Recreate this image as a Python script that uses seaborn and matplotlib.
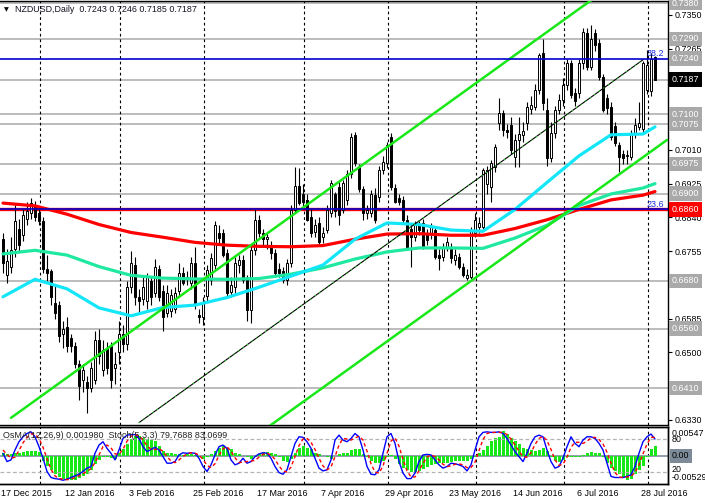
import numpy as np
import matplotlib
matplotlib.use("Agg")
import matplotlib.pyplot as plt
import matplotlib.transforms as mtransforms
import seaborn as sns

### DATA ###

TITLE = "NZDUSD,Daily  0.7243 0.7246 0.7185 0.7187"
IND_TITLE = "OsMA(12,26,9) 0.001980  Stoch(5,3,3) 79.7688 83.0699"

# daily candles in pips (x 0.0001), bar 0 = 17 Dec 2015
OPENS = [
    6785, 6695, 6715, 6760, 6810, 6795, 6835, 6850, 6870, 6850,
    6830, 6710, 6705, 6625, 6620, 6545, 6565, 6535, 6515, 6470,
    6430, 6425, 6410, 6430, 6530, 6455, 6510, 6515, 6460, 6500,
    6545, 6520, 6665, 6720, 6640, 6635, 6630, 6680, 6650, 6710,
    6655, 6600, 6605, 6610, 6655, 6700, 6690, 6675, 6725, 6595,
    6590, 6641, 6683, 6720, 6800, 6800, 6750, 6653, 6665, 6720,
    6733, 6683, 6607, 6758, 6833, 6800, 6785, 6766, 6750, 6710,
    6705, 6683, 6724, 6859, 6918, 6900, 6884, 6842, 6804, 6825,
    6790, 6809, 6850, 6900, 6917, 6859, 6883, 6950, 7048, 6967,
    6912, 6850, 6850, 6896, 6892, 6959, 6976, 7043, 6913, 6888,
    6884, 6833, 6810, 6790, 6820, 6825, 6800, 6800, 6808, 6745,
    6741, 6766, 6766, 6733, 6741, 6716, 6687, 6691, 6800, 6817,
    6817, 6925, 6917, 6968, 7077, 7102, 7060, 7073, 6993, 7035,
    7048, 7077, 7112, 7119, 7161, 7254, 7110, 6990, 7052, 7110,
    7136, 7174, 7228, 7154, 7154, 7228, 7304, 7220, 7304, 7278,
    7194, 7140, 7119, 7069, 7022, 7000, 6995, 6993, 7052, 7068,
    7062, 7160, 7158, 7243,
]
HIGHS = [
    6800, 6760, 6790, 6870, 6835, 6860, 6880, 6890, 6882, 6865,
    6840, 6745, 6710, 6670, 6630, 6580, 6590, 6545, 6525, 6480,
    6470, 6440, 6475, 6555, 6560, 6530, 6525, 6525, 6500, 6580,
    6570, 6680, 6755, 6740, 6660, 6690, 6700, 6690, 6735, 6720,
    6670, 6670, 6660, 6665, 6725, 6715, 6705, 6740, 6765, 6610,
    6640, 6720, 6750, 6830, 6820, 6810, 6760, 6690, 6740, 6745,
    6745, 6695, 6770, 6860, 6845, 6810, 6800, 6780, 6760, 6725,
    6715, 6735, 6870, 6968, 6965, 6925, 6900, 6860, 6835, 6840,
    6815, 6870, 6935, 6905, 6930, 6935, 6960, 7053, 7055, 6975,
    6920, 6870, 6910, 6915, 6970, 6995, 7030, 7053, 6925, 6900,
    6895, 6845, 6825, 6830, 6830, 6835, 6810, 6825, 6815, 6760,
    6775, 6790, 6775, 6760, 6750, 6725, 6710, 6815, 6850, 6840,
    6965, 6970, 6985, 7025, 7140, 7110, 7075, 7094, 7050, 7094,
    7080, 7130, 7145, 7175, 7255, 7290, 7140, 7080, 7120, 7150,
    7190, 7240, 7237, 7165, 7240, 7318, 7318, 7325, 7315, 7290,
    7200, 7150, 7130, 7080, 7030, 7010, 7010, 7060, 7090, 7130,
    7235, 7262, 7255, 7246,
]
LOWS = [
    6700, 6675, 6700, 6740, 6755, 6780, 6820, 6835, 6830, 6820,
    6700, 6680, 6620, 6585, 6525, 6510, 6500, 6500, 6460, 6380,
    6400, 6347, 6400, 6420, 6470, 6440, 6445, 6410, 6420, 6470,
    6500, 6505, 6650, 6620, 6600, 6620, 6610, 6620, 6640, 6630,
    6555, 6590, 6590, 6600, 6640, 6670, 6670, 6660, 6610, 6575,
    6570, 6630, 6670, 6710, 6770, 6740, 6640, 6640, 6650, 6700,
    6675, 6580, 6575, 6745, 6790, 6770, 6760, 6735, 6690, 6690,
    6675, 6670, 6715, 6850, 6870, 6865, 6830, 6790, 6790, 6770,
    6775, 6800, 6840, 6840, 6820, 6850, 6870, 6940, 6970, 6905,
    6833, 6835, 6840, 6825, 6880, 6950, 6965, 6910, 6875, 6870,
    6825, 6760, 6715, 6780, 6795, 6760, 6770, 6785, 6735, 6708,
    6730, 6755, 6725, 6720, 6710, 6690, 6683, 6685, 6790, 6800,
    6810, 6900, 6880, 6955, 7060, 7045, 7040, 7000, 6968, 6968,
    7030, 7060, 7100, 7110, 7150, 7110, 6970, 6980, 7040, 7100,
    7120, 7160, 7140, 7120, 7140, 7215, 7210, 7210, 7260, 7185,
    7105, 7100, 7035, 7020, 6955, 6975, 6975, 6985, 7040, 7060,
    7055, 7150, 7145, 7185,
]
CLOSES = [
    6725, 6730, 6757, 6830, 6770, 6845, 6855, 6875, 6840, 6830,
    6710, 6700, 6640, 6600, 6540, 6560, 6515, 6515, 6470, 6415,
    6455, 6410, 6460, 6530, 6490, 6505, 6460, 6430, 6470, 6545,
    6520, 6665, 6725, 6640, 6630, 6665, 6690, 6640, 6715, 6640,
    6590, 6650, 6645, 6650, 6700, 6675, 6685, 6725, 6625, 6590,
    6628, 6708, 6737, 6821, 6788, 6745, 6650, 6670, 6724, 6733,
    6683, 6607, 6758, 6833, 6800, 6785, 6790, 6750, 6700, 6700,
    6683, 6724, 6859, 6918, 6876, 6880, 6834, 6800, 6821, 6779,
    6800, 6859, 6926, 6855, 6846, 6926, 6950, 7043, 6976, 6912,
    6850, 6858, 6900, 6833, 6959, 6980, 7022, 6917, 6880, 6880,
    6833, 6766, 6790, 6820, 6808, 6766, 6783, 6817, 6741, 6737,
    6766, 6778, 6737, 6745, 6716, 6695, 6695, 6808, 6833, 6825,
    6959, 6959, 6976, 7018, 7102, 7060, 7055, 7010, 7035, 7050,
    7057, 7119, 7122, 7161, 7249, 7127, 6990, 7052, 7110, 7136,
    7174, 7228, 7148, 7132, 7228, 7308, 7220, 7290, 7274, 7194,
    7110, 7115, 7043, 7027, 6993, 6990, 6997, 7052, 7072, 7078,
    7228, 7225, 7240, 7187,
]

# moving averages read every 8 bars
MA_BARS = [0, 8, 16, 24, 32, 40, 48, 56, 64, 72, 80, 88, 96, 104, 112, 120,
           128, 136, 144, 152, 160, 163]
MA_RED = [0.6876, 0.6869, 0.6848, 0.6822, 0.6802, 0.6790, 0.6777, 0.6770,
          0.6767, 0.6766, 0.6769, 0.6785, 0.6798, 0.6799, 0.6795, 0.6795,
          0.6812, 0.6834, 0.6860, 0.6884, 0.6896, 0.6905]
MA_TEAL = [0.6748, 0.6757, 0.6745, 0.6716, 0.6694, 0.6687, 0.6685, 0.6684,
           0.6686, 0.6697, 0.6713, 0.6735, 0.6753, 0.6763, 0.6763, 0.6762,
           0.6788, 0.6820, 0.6870, 0.6899, 0.6914, 0.6925]
MA_CYAN = [0.6640, 0.6684, 0.6660, 0.6612, 0.6592, 0.6613, 0.6619, 0.6638,
           0.6664, 0.6692, 0.6720, 0.6785, 0.6826, 0.6822, 0.6808, 0.6805,
           0.6860, 0.6928, 0.6995, 0.7048, 0.7050, 0.7068]

# trend channel (bar, price) end points
CH_UP_BARS, CH_UP_PRICES = [2, 152], [0.6335, 0.7423]
CH_LOW_BARS, CH_LOW_PRICES = [66, 166], [0.6310, 0.7035]
MID_BARS, MID_PRICES = [34, 160], [0.6323, 0.7237]

GREY_LEVELS = [0.7380, 0.7290, 0.7187, 0.7100, 0.7075, 0.6975, 0.6900,
               0.6680, 0.6560, 0.6410]
FIB_LEVELS = [0.7240, 0.6860]
FIB_NAMES = ["38.2", "23.6"]
RED_LEVEL = 0.6860
LAST_PRICE = 0.7187
PLAIN_TICKS = [0.7350, 0.7265, 0.7010, 0.6925, 0.6840, 0.6755, 0.6585,
               0.6500, 0.6330]
BOX_TICKS = [0.7380, 0.7290, 0.7240, 0.7100, 0.7075, 0.6975, 0.6900,
             0.6680, 0.6560, 0.6410]

# OsMA in units of 0.0001
OSMA = [
    5, 4, 4, 5, 6, 8, 9, 10, 10, 8,
    -10, -20, -28, -35, -41, -45, -48, -48, -47, -44,
    -40, -36, -27, -15, -8, -3, -2, -4, -5, 6,
    13, 23, 33, 39, 39, 36, 34, 31, 29, 20,
    10, 5, 5, 3, 3, 2, 3, 3, 2, -3,
    -6, -3, 3, 10, 16, 20, 16, 13, 6, 3,
    0, -3, -6, -3, 3, 8, 8, 6, 3, -3,
    -10, -12, -6, 6, 16, 20, 16, 13, 6, 3,
    -1, -3, -5, 0, 3, 5, 6, 12, 14, 13,
    3, -3, -10, -13, -14, -10, -3, 2, -6, -16,
    -23, -27, -31, -32, -29, -25, -21, -18, -16, -14,
    -13, -13, -12, -10, -10, -9, -9, -6, -3, 6,
    12, 20, 29, 36, 38, 48, 42, 36, 29, 23,
    16, 13, 12, 10, 12, 16, 10, -3, -10, -12,
    -8, -3, -3, -3, -3, 1, 6, 8, 6, 6,
    -3, -13, -23, -29, -36, -44, -47, -45, -36, -28,
    -20, -3, 13, 20,
]
STOCH_MAIN = [
    54, 39, 42, 60, 75, 84, 90, 93, 84, 66,
    45, 21, 10, 8, 7, 5, 7, 10, 13, 16,
    21, 27, 30, 54, 69, 75, 63, 54, 42, 60,
    81, 87, 88, 88, 81, 66, 57, 61, 65, 60,
    48, 36, 36, 39, 51, 55, 54, 55, 54, 45,
    30, 21, 33, 51, 66, 69, 63, 42, 33, 36,
    45, 36, 39, 48, 53, 55, 54, 45, 30, 19,
    16, 24, 48, 72, 84, 83, 75, 63, 45, 27,
    22, 24, 42, 78, 87, 78, 75, 81, 90, 84,
    60, 30, 16, 15, 24, 54, 84, 90, 72, 39,
    18, 8, 8, 18, 39, 51, 52, 51, 42, 33,
    27, 30, 36, 35, 33, 30, 22, 33, 60, 84,
    92, 93, 92, 92, 93, 90, 81, 69, 57, 48,
    39, 54, 72, 84, 87, 84, 60, 39, 27, 30,
    45, 66, 84, 72, 66, 78, 84, 84, 81, 72,
    60, 36, 12, 10, 10, 10, 12, 15, 30, 54,
    75, 84, 89, 80,
]
STOCH_SIGNAL = [
    60, 52, 45, 47, 59, 73, 83, 89, 89, 81,
    65, 44, 25, 13, 8, 7, 6, 7, 10, 13,
    17, 21, 26, 37, 51, 66, 69, 64, 53, 52,
    61, 76, 85, 88, 86, 78, 68, 61, 61, 62,
    58, 48, 40, 37, 42, 48, 53, 55, 54, 51,
    43, 32, 28, 35, 50, 62, 66, 58, 46, 37,
    38, 39, 40, 41, 47, 52, 54, 51, 43, 31,
    22, 20, 29, 48, 68, 80, 81, 74, 61, 45,
    31, 24, 29, 48, 69, 81, 80, 78, 82, 85,
    78, 58, 35, 20, 18, 31, 54, 76, 82, 67,
    43, 22, 11, 11, 22, 36, 47, 51, 48, 42,
    34, 30, 31, 34, 35, 33, 28, 28, 38, 59,
    79, 90, 92, 92, 92, 92, 88, 80, 69, 58,
    48, 47, 55, 70, 81, 85, 77, 61, 42, 32,
    34, 47, 65, 74, 74, 72, 76, 82, 83, 79,
    71, 56, 36, 19, 11, 10, 11, 12, 19, 33,
    53, 71, 83, 83,
]

DATE_BARS = [0, 16, 32, 48, 64, 80, 96, 112, 128, 144, 160]
DATE_LABELS = ["17 Dec 2015", "12 Jan 2016", "3 Feb 2016", "25 Feb 2016",
               "17 Mar 2016", "7 Apr 2016", "29 Apr 2016", "23 May 2016",
               "14 Jun 2016", "6 Jul 2016", "28 Jul 2016"]
MONTH_STARTS = [9, 29, 50, 75, 96, 118, 140, 161]

### STYLE ###

sns.set_theme(style="white")
plt.rcParams["font.family"] = ["Liberation Sans", "DejaVu Sans"]
FS = 6.4
W, H = 705, 503
GREY = "#a9a9a9"
LIME = "#18e818"

o = np.array(OPENS) / 1e4
h = np.array(HIGHS) / 1e4
l = np.array(LOWS) / 1e4
c = np.array(CLOSES) / 1e4
bars = np.arange(len(c))
up = c >= o

fig = plt.figure(figsize=(W / 100, H / 100), dpi=100, facecolor="white")
ax = fig.add_axes([0, 1 - 425 / H, 668 / W, 424 / H])
ax2 = fig.add_axes([0, 1 - 484 / H, 668 / W, 57 / H])
ax3 = ax2.twinx()

### PRICE PANEL ###

for v in GREY_LEVELS:
    ax.axhline(v, color=GREY, lw=1.1, zorder=1)
ax.axhline(RED_LEVEL, color="red", lw=2.4, zorder=1.5)
for v in FIB_LEVELS:
    ax.axhline(v, color="#0000d0", lw=1.2, zorder=5)

ax.vlines(bars, l, h, color="black", lw=0.8, zorder=2)
ax.bar(bars[up], np.maximum((c - o)[up], 0.00003), bottom=o[up], width=0.7,
       facecolor="white", edgecolor="black", lw=0.7, zorder=3)
ax.bar(bars[~up], (o - c)[~up], bottom=c[~up], width=0.7,
       facecolor="black", edgecolor="black", lw=0.7, zorder=3)

sns.lineplot(x=MA_BARS, y=MA_RED, ax=ax, color="#ff0000", lw=2.3, zorder=4)
sns.lineplot(x=MA_BARS, y=MA_TEAL, ax=ax, color="#1fe8a0", lw=2.3, zorder=4)
sns.lineplot(x=MA_BARS, y=MA_CYAN, ax=ax, color="#12e6f8", lw=2.3, zorder=4)

ax.plot(CH_UP_BARS, CH_UP_PRICES, color=LIME, lw=1.8, zorder=4)
ax.plot(CH_LOW_BARS, CH_LOW_PRICES, color=LIME, lw=1.8, zorder=4)
ax.plot(MID_BARS, MID_PRICES, color="black", lw=0.8, zorder=4)
ax.plot(MID_BARS, MID_PRICES, color=LIME, lw=0.8, ls=(0, (1, 4)), zorder=4)

for v, name in zip(FIB_LEVELS, FIB_NAMES):
    ax.text(160.8, v + 0.0002, name, color="#1a2ee0", fontsize=FS,
            ha="left", va="bottom", zorder=6)

for m in MONTH_STARTS:
    ax.axvline(m + 0.25, color="black", lw=0.8, ls=(0, (2.5, 2.5)), zorder=1)
    ax2.axvline(m + 0.25, color="black", lw=0.8, ls=(0, (2.5, 2.5)), zorder=1)

ax.set_xlim(-0.75, 166.25)
ax.set_ylim(0.73800 - 422 / 3970, 0.73800 + 2 / 3970)
ax.set_xticks([])
ax.yaxis.tick_right()
ax.set_yticks(PLAIN_TICKS)
ax.set_yticklabels([f"{v:.4f}" for v in PLAIN_TICKS])
ax.tick_params(axis="y", length=3, width=0.8, pad=2, labelsize=FS,
               colors="black", right=True, left=False)
for side in ["top", "right", "bottom"]:
    ax.spines[side].set_color("black")
    ax.spines[side].set_linewidth(1)
ax.spines["left"].set_visible(False)
ax.set_xlabel("")
ax.set_ylabel("")

trans = mtransforms.blended_transform_factory(ax.transAxes, ax.transData)
for v in BOX_TICKS:
    ax.text(1.006, v, f"{v:.4f}", transform=trans, ha="left", va="center",
            fontsize=FS, color="white", clip_on=False, zorder=10,
            bbox=dict(boxstyle="square,pad=0.3", fc=GREY, ec="none"))
ax.text(1.006, LAST_PRICE, f"{LAST_PRICE:.4f}", transform=trans, ha="left",
        va="center", fontsize=FS, color="white", clip_on=False, zorder=10,
        bbox=dict(boxstyle="square,pad=0.3", fc="black", ec="none"))
ax.text(1.006, RED_LEVEL, f"{RED_LEVEL:.4f}", transform=trans, ha="left",
        va="center", fontsize=FS, color="white", clip_on=False, zorder=10,
        bbox=dict(boxstyle="square,pad=0.3", fc="#ff0000", ec="none"))

fig.text(4 / W, 1 - 10 / H, "\u25bc", fontsize=4.5, color="black",
         va="center", ha="left", family="DejaVu Sans")
fig.text(15 / W, 1 - 10 / H, TITLE, fontsize=FS, color="#111122",
         va="center", ha="left")

### INDICATOR PANEL ###

ax2.bar(bars, np.array(OSMA) / 1e4, width=0.75, color=LIME, lw=0, zorder=2)
ax2.axhline(0, color="#7f8fa0", lw=1.2, zorder=1.5)
ax2.set_ylim(-0.005486, 0.005666)
ax2.set_xlim(-0.75, 166.25)

ax3.axhline(80, color="#b4b4b4", lw=0.9, ls=(0, (3, 2)), zorder=1)
ax3.axhline(20, color="#b4b4b4", lw=0.9, ls=(0, (3, 2)), zorder=1)
sns.lineplot(x=bars, y=STOCH_MAIN, ax=ax3, color="#0000ff", lw=1.0, zorder=3)
sns.lineplot(x=bars, y=STOCH_SIGNAL, ax=ax3, color="#ff0000", lw=1.0,
             linestyle=(0, (2.5, 2)), zorder=3)
ax3.set_ylim(-1.8, 101.8)
ax3.set_xlim(-0.75, 166.25)

for a in (ax2, ax3):
    a.set_xticks([])
    a.set_yticks([])
    a.set_xlabel("")
    a.set_ylabel("")
    a.spines["left"].set_visible(False)
    for side in ["top", "right", "bottom"]:
        a.spines[side].set_color("black")
        a.spines[side].set_linewidth(1)

fig.text(3 / W, 1 - 435 / H, IND_TITLE, fontsize=FS, color="#222222",
         va="center", ha="left")

ind_labels = [("0.00547", 433), ("80", 440), ("20", 470), ("-0.00529", 477)]
for txt, ypx in ind_labels:
    fig.text(672 / W, 1 - ypx / H, txt, fontsize=FS, color="black",
             va="center", ha="left")
fig.text(672 / W, 1 - 456 / H, "0.00", fontsize=FS, color="black",
         va="center", ha="left",
         bbox=dict(boxstyle="square,pad=0.25", fc="#7d8b99", ec="none"))

for b, lab in zip(DATE_BARS, DATE_LABELS):
    fig.text((4 * b + 1) / W, 1 - 493 / H, lab, fontsize=FS, color="black",
             va="center", ha="left")

fig.savefig("out.png", dpi=100, facecolor="white")
